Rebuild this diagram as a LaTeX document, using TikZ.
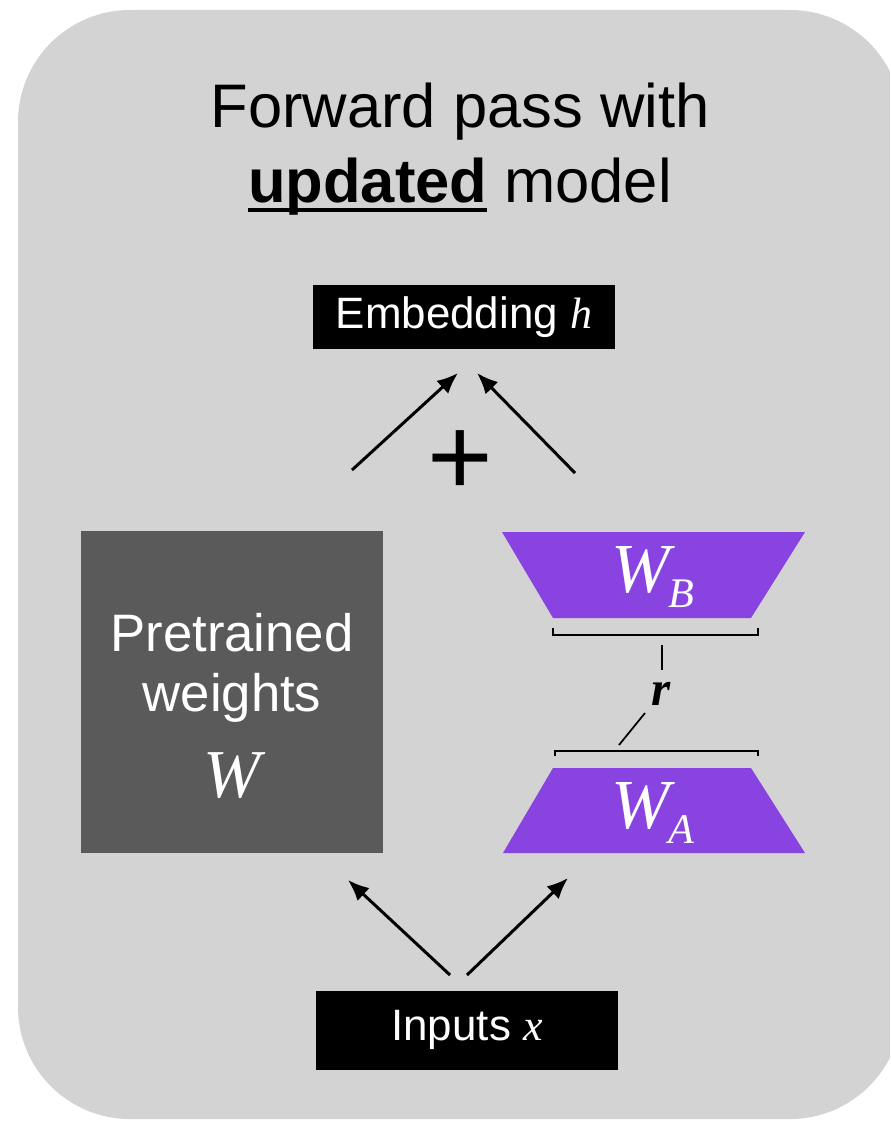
\documentclass[tikz,border=0pt]{standalone}
\usepackage{fontspec}
\setmainfont{Liberation Sans}
\newfontfamily\serifmath{Liberation Serif}
\usetikzlibrary{arrows.meta}

\definecolor{panelgray}{HTML}{D3D3D3}
\definecolor{pregray}{HTML}{5A5A5A}
\definecolor{lorapurple}{HTML}{8943E0}

\newcommand{\mvar}[1]{{\serifmath\itshape #1}}
\newcommand{\wsub}[1]{\mvar{W}\kern-1pt\raisebox{-9pt}{\fontsize{24}{24}\selectfont\mvar{#1}}}
\newsavebox{\ulbox}
\newcommand{\ulbold}[1]{\sbox{\ulbox}{\bfseries #1}\rlap{\rule[-0.16em]{\wd\ulbox}{0.065em}}\usebox{\ulbox}}

\begin{document}
\begin{tikzpicture}[
    x=0.02cm, y=-0.02cm,
    >={Latex[length=12pt,width=10pt]},
    blackbox/.style={rectangle, fill=black, text=white, inner sep=0pt, font=\fontsize{25}{30}\selectfont},
    prebox/.style={rectangle, fill=pregray, inner sep=0pt, minimum width=6.04cm, minimum height=6.44cm},
    pretext/.style={text=white, inner sep=0pt, align=center, font=\fontsize{30}{34}\selectfont},
    lora/.style={fill=lorapurple},
    wlabel/.style={text=white, inner sep=0pt, anchor=base, font=\fontsize{40}{40}\selectfont},
    flow/.style={->, line width=1.7pt},
    brace/.style={line width=1.1pt}
]

    % 1. Panel background
    \useasboundingbox (0,0) rectangle (890,1121);
    \clip (0,0) rectangle (890,1121);
    \fill[panelgray, rounded corners=2.24cm] (18,10) rectangle (902,1119);

    % 2. Title
    \node[font=\fontsize{35}{42.5}\selectfont, align=center] (title) at (460,149) {Forward pass with\\\ulbold{updated} model};

    % 3. Embedding output
    \node[blackbox, minimum width=6.06cm, minimum height=1.3cm] (emb) at (464,317) {Embedding \mvar{h}};

    % 4. Pretrained weights
    \node[prebox] (pre) at (232,692) {};
    \node[pretext] (pretxt) at (232,706) {Pretrained\\weights\\[15pt]{\fontsize{39}{39}\selectfont\mvar{W}}};

    % 5. Low-rank matrices
    \fill[lora] (502,532) -- (805,532) -- (751,618) -- (553,618) -- cycle;
    \node[wlabel] (wb) at (653,592) {\wsub{B}};
    \fill[lora] (553,768) -- (751,768) -- (805,853) -- (503,853) -- cycle;
    \node[wlabel] (wa) at (653,828) {\wsub{A}};

    % 6. Rank r
    \draw[brace] (553,628) -- (553,635) -- (758,635) -- (758,628);
    \draw[brace] (555,756) -- (555,751) -- (758,751) -- (758,756);
    \node[font=\fontsize{28}{28}\selectfont, inner sep=0pt] (rank) at (661,694) {\mvar{\bfseries r}};
    \draw[line width=1pt] (662,645) -- (662,670);
    \draw[line width=1pt] (645,713) -- (619,745);

    % 7. Sum into embedding
    \node[font=\fontsize{64}{64}\selectfont, inner sep=0pt] (plus) at (460,463) {+};
    \coordinate (sumL) at (352,470);
    \coordinate (sumR) at (575,473);
    \coordinate (embL) at (458,373);
    \coordinate (embR) at (477,373);
    \draw[flow] (sumL) -- (embL);
    \draw[flow] (sumR) -- (embR);

    % 8. Inputs
    \node[blackbox, minimum width=6.04cm, minimum height=1.58cm] (inp) at (467,1030) {Inputs \mvar{x}};
    \coordinate (inpL) at (450,975);
    \coordinate (inpR) at (467,975);
    \coordinate (preIn) at (348,880);
    \coordinate (loraIn) at (568,878);
    \draw[flow] (inpL) -- (preIn);
    \draw[flow] (inpR) -- (loraIn);

\end{tikzpicture}
\end{document}
